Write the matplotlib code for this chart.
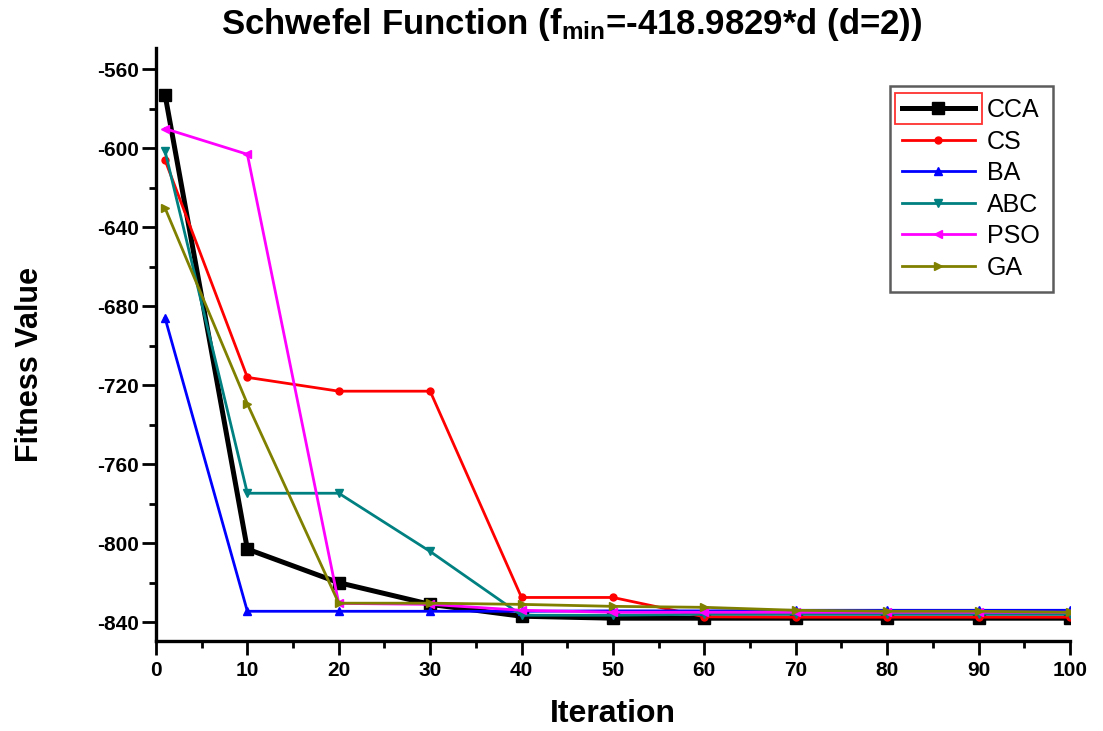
import matplotlib
matplotlib.use("Agg")
import matplotlib.pyplot as plt
from matplotlib.patches import Rectangle
from matplotlib.ticker import MultipleLocator

plt.rcParams['font.family'] = ['Liberation Sans', 'DejaVu Sans']
plt.rcParams['mathtext.fontset'] = 'custom'
plt.rcParams['mathtext.rm'] = 'Liberation Sans:bold'
plt.rcParams['mathtext.it'] = 'Liberation Sans:bold'
plt.rcParams['mathtext.bf'] = 'Liberation Sans:bold'
plt.rcParams['axes.unicode_minus'] = False

iterations = [1, 10, 20, 30, 40, 50, 60, 70, 80, 90, 100]

cca = [-573, -803, -820, -831, -837, -838, -838, -838, -838, -838, -838]
cs = [-606, -716, -723, -723, -827.5, -827.5, -837.3, -837.5, -837.5, -837.5, -837.5]
ba = [-686, -834.5, -834.5, -834.5, -834.5, -834.3, -834.3, -834, -834, -834, -834]
abc = [-601.5, -774.7, -774.7, -804.2, -836.5, -836.5, -836, -836, -836, -836, -836]
pso = [-590, -603, -830.5, -831, -834, -835, -835, -835, -835, -835, -835]
ga = [-630.3, -729.4, -830.4, -830.4, -831, -832, -832.5, -834, -834.5, -834.5, -835]

series = [
    ("CCA", cca, "black", "s", 3.6, 9),
    ("CS", cs, "#ff0000", "o", 2.0, 5),
    ("BA", ba, "#0000ff", "^", 2.0, 6),
    ("ABC", abc, "#008080", "v", 2.0, 6),
    ("PSO", pso, "#ff00ff", "<", 2.0, 6),
    ("GA", ga, "#808000", ">", 2.0, 6),
]

fig = plt.figure(figsize=(11.03, 7.31), dpi=100)
ax = fig.add_axes([0.1414, 0.123, 0.8286, 0.812])

for name, vals, color, marker, lw, ms in series:
    ax.plot(iterations, vals, color=color, marker=marker, lw=lw, ms=ms,
            label=name, zorder=3 if name != "CCA" else 2)

ax.set_xlim(0, 100)
ax.set_ylim(-849.6, -548.9)
ax.xaxis.set_major_locator(MultipleLocator(10))
ax.xaxis.set_minor_locator(MultipleLocator(5))
ax.set_yticks([-560, -600, -640, -680, -720, -760, -800, -840])
ax.yaxis.set_minor_locator(MultipleLocator(20))

for s in ("top", "right"):
    ax.spines[s].set_visible(False)
for s in ("left", "bottom"):
    ax.spines[s].set_linewidth(2.4)

ax.tick_params(which="major", direction="out", length=10, width=2, labelsize=15, pad=2)
ax.tick_params(which="minor", direction="out", length=5, width=2)
ax.tick_params(axis="x", which="major", pad=4)
for lab in ax.get_xticklabels() + ax.get_yticklabels():
    lab.set_fontweight("bold")

ax.set_xlabel("Iteration", fontsize=23, fontweight="bold")
ax.xaxis.set_label_coords(0.5, -0.098)
ax.set_ylabel("Fitness Value", fontsize=22, fontweight="bold")
ax.yaxis.set_label_coords(-0.121, 0.466)

fig.text(572 / 1103, 1 - 6 / 731,
         r"Schwefel Function (f$_{\rm min}$=-418.9829*d (d=2))",
         fontsize=25, fontweight="bold", ha="center", va="top")

leg = ax.legend(loc="upper right", bbox_to_anchor=(0.981, 0.936), fontsize=18,
                frameon=True, fancybox=False, edgecolor="#333333",
                borderaxespad=0, handlelength=2.9, borderpad=0.5,
                labelspacing=0.3, handletextpad=0.5)
leg.get_frame().set_linewidth(1.8)

# selection box drawn around the first legend handle
fig.canvas.draw()
lines = leg.get_lines()
bb = lines[0].get_window_extent(fig.canvas.get_renderer())
pad_y = 15.5
fig.patches.append(Rectangle((bb.x0 - 1, bb.y0 + bb.height / 2 - pad_y),
                             bb.width + 2, 2 * pad_y, transform=None,
                             fill=False, edgecolor="#ff3030", lw=1.3))

fig.savefig("out.png", dpi=100)
